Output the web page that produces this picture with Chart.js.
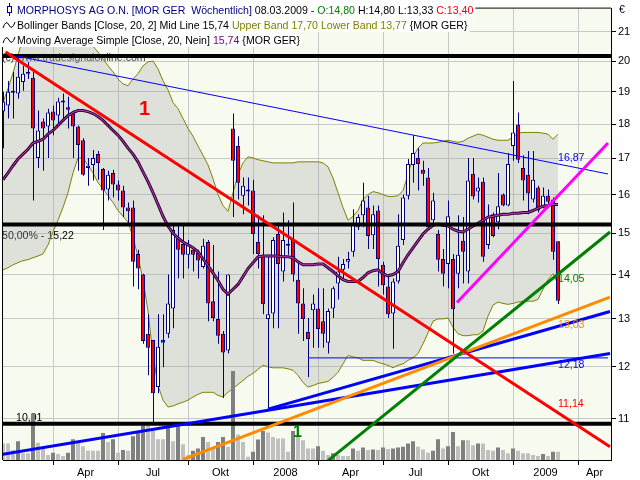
<!DOCTYPE html>
<html><head><meta charset="utf-8">
<script src="https://cdn.jsdelivr.net/npm/chart.js@4.4.1/dist/chart.umd.min.js"></script>
<style>html,body{margin:0;padding:0;background:#fff}canvas{display:block}</style>
</head><body>
<canvas id="c" width="640" height="480"></canvas>
<script>
// ---- weekly candles (index 0 = Jan 2007 ... 111 = week of 08.03.2009) ----
const OPEN = [18.38,18.57,18.97,18.94,19.31,19.58,19.45,17.01,18.08,17.93,
18.38,18.26,18.66,18.51,18.35,17.93,17.52,16.73,16.81,17.12,
16.70,16.14,16.59,16.27,16.11,15.66,15.66,14.49,14.00,12.68,
12.55,11.60,12.55,12.68,13.23,14.86,14.73,14.47,14.59,14.52,
14.18,14.78,13.39,13.00,12.68,12.33,17.87,17.35,15.97,16.08,
16.11,14.78,14.47,13.00,13.12,14.98,14.07,14.69,14.83,13.88,
13.34,12.72,13.19,13.23,12.95,12.49,13.23,13.79,14.11,14.30,
14.54,15.15,15.46,15.66,14.95,15.58,14.23,13.72,13.12,13.84,
14.83,15.97,16.81,17.01,16.68,16.46,15.33,14.98,14.37,14.25,
14.37,14.02,14.81,14.07,16.57,16.08,16.35,14.71,15.48,15.28,
16.00,15.71,17.35,17.99,16.73,16.54,15.87,16.19,15.66,15.97,
15.87,14.80];
const HIGH = [19.00,19.34,19.64,20.13,19.84,19.97,19.64,18.41,18.17,18.47,
18.57,18.81,18.94,18.84,18.41,17.96,17.58,17.01,17.24,17.21,
16.73,16.65,16.68,16.38,16.24,15.79,15.84,14.59,14.02,13.10,
12.55,13.10,13.10,14.00,15.20,15.20,15.20,14.83,14.61,14.59,
14.86,14.83,14.71,14.07,12.74,14.00,18.32,17.64,16.46,16.46,
16.40,15.46,15.46,14.47,14.90,15.28,15.53,15.33,15.79,14.30,
13.68,13.02,13.54,13.68,13.68,13.23,13.72,14.42,14.37,14.54,
15.61,15.48,16.32,15.97,15.71,15.71,14.30,14.00,13.91,15.48,
16.00,16.98,17.67,17.29,16.93,16.73,16.05,15.08,14.61,15.84,
14.49,15.46,15.41,17.01,17.01,16.46,16.46,15.74,15.53,16.59,
16.03,17.15,19.34,18.35,17.09,17.21,17.21,16.24,16.19,16.14,
15.92,14.80];
const LOW = [17.29,18.17,18.17,18.78,19.03,19.41,15.84,16.73,16.65,17.01,
17.67,17.96,18.08,17.87,17.01,16.65,16.51,16.24,16.38,16.40,
15.08,15.84,15.92,15.84,15.41,15.25,13.72,13.66,12.47,11.83,
10.91,11.48,11.99,12.59,12.80,13.91,13.91,14.14,14.07,13.91,
14.14,12.95,12.95,12.47,11.39,12.27,15.41,15.87,15.48,15.71,
14.49,14.14,13.10,11.20,12.80,12.80,13.84,14.47,13.84,12.68,
12.53,11.79,12.39,12.39,12.39,12.27,13.02,13.43,13.91,14.14,
14.42,15.08,15.15,14.61,14.61,13.72,13.54,13.02,12.37,13.79,
14.71,15.87,16.32,16.11,16.24,15.10,15.20,14.07,13.72,13.68,
12.27,13.68,13.79,13.79,15.87,15.79,14.30,14.61,14.90,15.10,
15.69,15.69,16.93,16.87,15.84,15.48,15.79,15.53,15.64,15.64,
14.35,13.33];
const CLOSE = [18.69,19.00,19.03,19.48,19.58,19.64,17.87,17.81,17.87,18.35,
18.11,18.69,18.69,18.44,17.93,17.38,16.54,16.79,17.01,16.87,
16.11,16.54,16.27,16.11,15.66,15.56,14.30,14.14,12.53,12.39,
11.48,12.41,12.49,13.34,15.08,14.59,14.47,14.73,14.47,14.33,
14.69,13.34,13.02,12.64,12.29,14.00,16.93,16.32,16.24,16.14,
14.98,14.49,13.32,13.10,14.83,14.25,14.83,14.73,14.00,13.34,
13.00,12.57,13.34,12.78,12.68,13.17,13.68,14.07,14.25,14.37,
15.23,15.41,15.84,14.93,15.48,14.37,13.75,13.10,13.84,14.69,
15.92,16.84,17.15,16.84,16.57,15.15,15.84,14.35,14.02,15.43,
13.21,14.47,14.54,16.38,15.95,16.19,14.42,15.41,14.93,15.69,
15.71,16.84,17.75,16.96,16.38,16.03,16.40,15.58,15.97,15.81,
14.54,13.40];
// volume (thousand shares)
const VOLUME = [167,167,100,190,67,67,470,173,117,50,
73,60,40,73,210,173,140,93,93,93,
273,183,210,73,100,93,240,273,350,350,
300,210,210,333,190,350,160,50,93,117,
233,183,117,183,233,133,900,257,183,33,
83,207,293,277,233,217,217,83,293,233,
200,117,117,140,93,50,67,50,40,40,
117,93,127,100,107,100,127,110,117,127,
133,167,190,133,107,73,93,210,117,140,
283,140,200,200,150,167,167,100,93,127,
100,67,117,93,67,67,50,40,60,40,
83,83];
// Bollinger Bands [Close,20,2] and SMA 20
const MID = [16.40,16.59,16.79,16.98,17.12,17.26,17.44,17.49,17.55,17.70,
17.81,17.96,18.11,18.26,18.35,18.41,18.41,18.38,18.32,18.23,
18.11,17.96,17.81,17.67,17.49,17.29,17.12,16.90,16.62,16.35,
16.05,15.74,15.43,15.18,15.00,14.88,14.78,14.71,14.64,14.54,
14.37,14.21,14.04,13.86,13.66,13.55,13.66,13.77,13.95,14.14,
14.28,14.42,14.44,14.44,14.44,14.44,14.42,14.42,14.40,14.30,
14.23,14.23,14.23,14.25,14.25,14.16,14.07,13.97,13.88,13.84,
13.84,13.84,13.93,14.04,14.09,14.11,14.02,13.97,14.00,14.07,
14.28,14.47,14.64,14.81,14.98,15.10,15.20,15.23,15.20,15.18,
15.10,15.05,15.03,15.10,15.18,15.25,15.33,15.41,15.43,15.46,
15.48,15.48,15.51,15.51,15.53,15.53,15.58,15.64,15.69,15.71,
15.74,15.74];
const UPPER = [18.66,19.10,19.60,20.20,20.80,21.30,21.70,22.00,22.20,22.30,
22.30,22.20,22.00,21.80,21.60,21.40,21.10,20.80,20.50,20.30,
20.07,19.84,19.64,19.41,19.25,19.19,19.41,19.58,19.84,19.97,
20.00,19.74,19.35,19.06,18.66,18.47,18.17,17.87,17.64,17.35,
17.09,16.81,16.43,16.00,15.71,15.56,16.05,16.54,16.87,17.04,
17.01,16.96,16.93,16.90,16.87,16.87,16.87,16.87,16.87,16.90,
16.90,16.90,16.90,16.90,16.87,16.76,16.45,16.05,15.66,15.33,
15.43,15.58,15.87,16.00,16.08,16.05,16.00,15.95,15.95,15.97,
16.11,16.54,17.04,17.29,17.44,17.44,17.44,17.46,17.49,17.52,
17.49,17.46,17.49,17.58,17.64,17.70,17.67,17.61,17.55,17.52,
17.52,17.52,17.61,17.73,17.75,17.75,17.75,17.75,17.73,17.70,
17.55,17.70];
const LOWER = [14.11,14.16,14.23,14.28,14.33,14.35,14.40,14.44,14.49,14.71,
15.03,15.33,15.66,16.05,16.59,17.01,17.01,16.79,16.59,16.32,
16.16,15.97,15.79,15.58,15.43,15.28,14.90,14.42,13.88,13.17,
12.23,11.63,11.35,11.22,11.24,11.28,11.31,11.35,11.41,11.46,
11.50,11.50,11.50,11.44,11.41,11.50,11.58,11.65,11.73,11.81,
11.87,11.95,12.03,12.00,11.98,11.98,11.98,11.96,11.93,11.83,
11.69,11.60,11.63,11.67,11.69,11.71,11.79,11.89,12.06,12.23,
12.20,12.18,12.13,12.13,12.13,12.09,12.06,12.03,11.98,12.03,
12.06,12.13,12.18,12.27,12.47,12.70,12.95,13.00,13.00,13.02,
12.82,12.68,12.64,12.64,12.66,12.66,12.74,13.06,13.30,13.37,
13.34,13.32,13.34,13.37,13.39,13.39,13.39,13.43,13.66,13.88,
14.02,13.77];
// Fibonacci levels (100% top line, 50%, 0%)
const FIB = [20.17, 15.22, 10.91];
// trend lines: [barStart, priceStart, barEnd, priceEnd]
const RED_LINE    = [0.5, 20.30, 121.4, 10.50];
const THIN_BLUE   = [2.4, 20.18, 121.0, 16.56];
const MAGENTA_LINE= [90.8, 13.36, 121.0, 17.44];
const GREEN_LINE  = [65.0, 10.26, 121.4, 15.03];
const ORANGE_LINE = [36.0, 10.28, 121.4, 13.48];
const BLUE_LOW    = [-0.6, 10.36, 121.4, 12.27];
const BLUE_UP     = [53.0, 11.18, 121.4, 13.16];
const HORIZ_BLUE  = [61.0, 12.18, 121.0, 12.18];
// values printed at the current bar
const LINE_VALUES = [16.87, 14.05, 13.03, 12.18, 11.14];
// axes
const Y_TICKS = [11,12,13,14,15,16,17,18,19,20,21];
const QUARTER_START = [10, 23, 37, 50, 63, 76, 89, 102, 115];
const QUARTER_LABEL = ['Apr','Jul','Okt','2008','Apr','Jul','Okt','2009','Apr'];

const XMIN = 0, XMAX = 121.6, YMIN = 10.27, YMAX = 21.83;
const N = CLOSE.length, LAST = N - 1;
const idx = CLOSE.map((_, i) => i);
const fmt = v => v.toFixed(2).replace('.', ',');
const pts = arr => arr.map((v, i) => ({x: i, y: v}));
const seg = a => [{x: a[0], y: a[1]}, {x: a[2], y: a[3]}];

Chart.defaults.font.family = '"Liberation Sans", Arial, sans-serif';
Chart.defaults.font.size = 11;
Chart.defaults.color = '#000';

function lineDs(data, color, width, order, extra) {
  return Object.assign({type: 'line', data, borderColor: color, borderWidth: width,
    pointRadius: 0, tension: 0, fill: false, order, clip: 0, xAxisID: 'x', yAxisID: 'y'}, extra || {});
}

const bodyColors = idx.map(i => CLOSE[i] >= OPEN[i] ? '#ffffff' : '#ff0000');
const volColors = idx.map(i => (i > 0 && VOLUME[i] > VOLUME[i-1]) ? '#808080' : '#c0c0c0');

const datasets = [
  lineDs(pts(UPPER), '#808000', 1, 100, {fill: '+1', backgroundColor: 'rgba(165,165,170,0.30)'}),
  lineDs(pts(LOWER), '#808000', 1, 99),
  {type: 'bar', xAxisID: 'x', yAxisID: 'yv', data: idx.map(i => ({x: i, y: VOLUME[i]})),
   backgroundColor: volColors, barThickness: 4, grouped: false, order: 90, inflateAmount: 0, clip: 0},
  {type: 'bar', xAxisID: 'xw', yAxisID: 'y', data: idx.map(i => ({x: i, y: [LOW[i], HIGH[i]]})),
   backgroundColor: '#000080', barThickness: 1, grouped: false, order: 80, inflateAmount: 0, borderWidth: 0, clip: 0},
  {type: 'bar', xAxisID: 'x', yAxisID: 'y', data: idx.map(i => ({x: i, y: [OPEN[i], CLOSE[i]]})),
   backgroundColor: bodyColors, borderColor: '#000080', borderWidth: 1, borderSkipped: false,
   barThickness: 4, grouped: false, order: 79, inflateAmount: 0, minBarLength: 2, clip: 0},
  lineDs(pts(MID), '#300030', 3, 70),
  lineDs(pts(MID), '#c040c0', 1, 69),
  ...FIB.map(v => lineDs([{x: XMIN, y: v}, {x: XMAX, y: v}], '#000000', 4, 60)),
  lineDs(seg(THIN_BLUE), '#0000ff', 1, 50),
  lineDs(seg(HORIZ_BLUE), '#0000ff', 1, 50),
  lineDs(seg(BLUE_LOW), '#0000ff', 3, 45),
  lineDs(seg(BLUE_UP), '#0000ff', 3, 44),
  lineDs(seg(ORANGE_LINE), '#ff8c00', 3, 43),
  lineDs(seg(GREEN_LINE), '#008000', 3, 42),
  lineDs(seg(MAGENTA_LINE), '#ff00ff', 3, 41),
  lineDs(seg(RED_LINE), '#ff0000', 3, 40)
];

const FONT = '10.6px "Liberation Sans", Arial, sans-serif';

function runs(ctx, x, base, list) {
  let cx = x;
  for (const [t, c] of list) { ctx.fillStyle = c; ctx.fillText(t, cx, base); cx += ctx.measureText(t).width; }
  return cx;
}
function runsWidth(ctx, list) { return list.reduce((s, r) => s + ctx.measureText(r[0]).width, 0); }
function wave(ctx, x, y) {
  ctx.strokeStyle = '#000'; ctx.lineWidth = 1;
  ctx.beginPath(); ctx.moveTo(x, y + 3);
  ctx.quadraticCurveTo(x + 3, y - 6, x + 6, y);
  ctx.quadraticCurveTo(x + 9, y + 6, x + 12, y - 3);
  ctx.stroke();
}

const decor = {
  id: 'decor',
  beforeDraw(chart) {
    const c = chart.ctx, a = chart.chartArea;
    c.save();
    c.fillStyle = '#ffffff'; c.fillRect(0, 0, chart.width, chart.height);
    c.fillStyle = '#f7faef'; c.fillRect(a.left, a.top, a.right - a.left, a.bottom - a.top);
    c.restore();
  },
  beforeDatasetsDraw(chart) {
    const c = chart.ctx, y = chart.scales.y;
    c.save(); c.font = FONT; c.textBaseline = 'alphabetic';
    c.fillStyle = '#404040';
    c.fillText('(c) www.tradesignalonline.com', 2, 61);
    c.fillStyle = '#000';
    c.fillText('50,00% - ' + fmt(FIB[1]), 2, y.getPixelForValue(FIB[1]) + 14);
    c.fillText(fmt(FIB[2]), 16, y.getPixelForValue(FIB[2]) - 3);
    c.restore();
  },
  afterDatasetsDraw(chart) {
    const c = chart.ctx, x = chart.scales.x, y = chart.scales.y;
    const px = x.getPixelForValue(LAST);
    c.save(); c.font = FONT; c.textBaseline = 'alphabetic';
    const cols = ['#0000ff', '#008000', '#ff8c00', '#0000ff', '#ff0000'];
    const offs = [-2, 10, 10, 10, -4];
    LINE_VALUES.forEach((v, k) => {
      c.fillStyle = cols[k];
      c.fillText(fmt(v), px, y.getPixelForValue(v) + offs[k]);
    });
    c.font = 'bold 20px "Liberation Sans", Arial, sans-serif';
    c.fillStyle = '#ff0000'; c.fillText('1', 139, 115);
    c.font = 'bold 16px "Liberation Sans", Arial, sans-serif';
    c.fillStyle = '#008000'; c.fillText('1', 293, 437);
    c.restore();
  },
  afterDraw(chart) {
    const c = chart.ctx, a = chart.chartArea;
    c.save();
    c.strokeStyle = '#000'; c.lineWidth = 1;
    c.beginPath(); c.moveTo(a.left - 0.5, a.bottom); c.lineTo(a.left - 0.5, a.top - 0.5); c.lineTo(a.right, a.top - 0.5); c.stroke();
    c.font = FONT; c.textBaseline = 'alphabetic';
    const o = OPEN[LAST], h = HIGH[LAST], l = LOW[LAST], cl = CLOSE[LAST];
    const rows = [
      [['MORPHOSYS AG O.N. [MOR GER  W\u00f6chentlich]', '#000080'], [' 08.03.2009 - ', '#000'],
       ['O:' + fmt(o), '#008000'], [' H:' + fmt(h) + ' L:' + fmt(l) + ' ', '#000'], ['C:' + fmt(cl), '#ff0000']],
      [['Bollinger Bands [Close, 20, 2] Mid Line ' + fmt(MID[LAST]) + ' ', '#000'],
       ['Upper Band ' + fmt(UPPER[LAST]) + ' Lower Band ' + fmt(LOWER[LAST]) + ' ', '#808000'], ['{MOR GER}', '#000']],
      [['Moving Average Simple [Close, 20, Nein] ', '#000'], [fmt(MID[LAST]) + ' ', '#800080'], ['{MOR GER}', '#000']]
    ];
    rows.forEach((r, k) => {
      const top = 2 + k * 15, w = runsWidth(c, r);
      c.fillStyle = '#ffffff'; c.fillRect(0, top, 17 + w + 2, 15);
      runs(c, 17, top + 12, r);
    });
    c.strokeStyle = '#000080'; c.lineWidth = 1;
    c.beginPath(); c.moveTo(9.5, 3); c.lineTo(9.5, 16); c.stroke();
    c.fillStyle = '#fff'; c.fillRect(7, 6, 5, 7); c.strokeRect(7.5, 6.5, 4, 6);
    wave(c, 3, 25); wave(c, 3, 40);
    c.fillStyle = '#000'; c.fillText('\u20ac', 619, 13);
    c.restore();
  }
};

new Chart(document.getElementById('c'), {
  type: 'line',
  data: {datasets},
  plugins: [decor],
  options: {
    responsive: false, animation: false, devicePixelRatio: 1,
    layout: {padding: {left: 3, top: 4, right: 0, bottom: 0}},
    plugins: {legend: {display: false}, tooltip: {enabled: false}},
    scales: {
      x: {
        type: 'linear', position: 'bottom', min: XMIN, max: XMAX, offset: false,
        afterBuildTicks: s => {
          const t = [];
          QUARTER_START.forEach((q, k) => {
            t.push({value: q, bound: true});
            const nx = k + 1 < QUARTER_START.length ? QUARTER_START[k + 1] : XMAX;
            t.push({value: (q + nx) / 2, txt: QUARTER_LABEL[k]});
          });
          s.ticks = t;
        },
        afterFit: s => { s.height = 20; },
        grid: {
          offset: false, tickLength: 5, lineWidth: 1,
          color: c => (c.tick && c.tick.bound) ? '#c8c8c8' : 'rgba(0,0,0,0)',
          tickColor: c => (c.tick && c.tick.bound) ? '#000' : 'rgba(0,0,0,0)'
        },
        border: {display: true, color: '#000'},
        ticks: {autoSkip: false, maxRotation: 0, padding: 1, color: '#000',
          callback: (v, i, t) => (t[i] && t[i].txt) || ''}
      },
      xw: {type: 'linear', min: XMIN - 0.1, max: XMAX - 0.1, display: false, offset: false},
      y: {
        type: 'logarithmic', position: 'right', min: YMIN, max: YMAX, bounds: 'data',
        afterBuildTicks: s => { s.ticks = Y_TICKS.map(v => ({value: v})); },
        afterFit: s => { s.width = 29; },
        grid: {color: '#c8c8c8', tickColor: '#000', tickLength: 5},
        border: {display: true, color: '#000'},
        ticks: {padding: 2, color: '#000', callback: v => String(v)}
      },
      yv: {type: 'linear', min: 0, max: 4560, display: false}
    }
  }
});
</script>
</body></html>
